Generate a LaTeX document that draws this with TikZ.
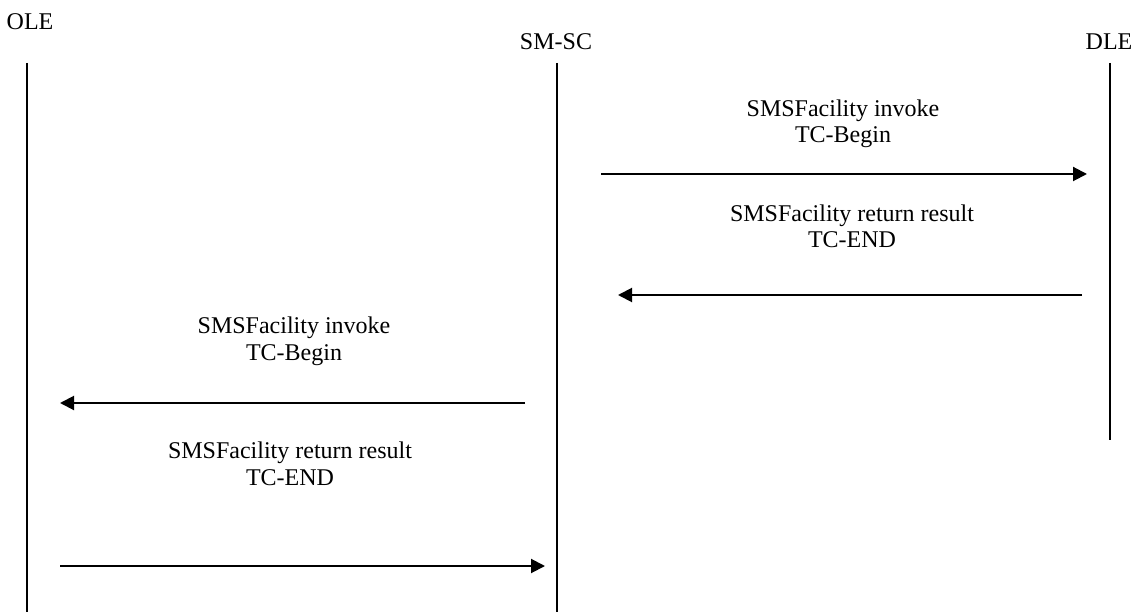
\documentclass[tikz,border=0pt]{standalone}
\usepackage{fontspec}
\setmainfont{Liberation Serif}
\usetikzlibrary{arrows.meta}
\begin{document}
\begin{tikzpicture}[x=1pt,y=-1pt,
  every node/.style={font=\fontsize{24}{26.5}\selectfont, inner sep=0pt, outer sep=0pt},
  head/.style={anchor=base},
  msglabel/.style={align=center, anchor=base},
  lifeline/.style={line width=2pt},
  msg/.style={line width=2pt, -{Triangle[length=14pt,width=14pt]}}]
\useasboundingbox (0,0) rectangle (1140,612);
% heads
\node[head] (ole) at (30,30) {OLE};
\node[head] (smsc) at (556,50) {SM-SC};
\node[head] (dle) at (1109,50) {DLE};
% lifelines
\coordinate (oleT) at (27,63);
\coordinate (oleB) at (27,612);
\coordinate (smscT) at (557,63);
\coordinate (smscB) at (557,612);
\coordinate (dleT) at (1110,63);
\coordinate (dleB) at (1110,440);
\draw[lifeline] (oleT) -- (oleB);
\draw[lifeline] (smscT) -- (smscB);
\draw[lifeline] (dleT) -- (dleB);
% message endpoints
\coordinate (m1s) at (601,174);
\coordinate (m1e) at (1087,174);
\coordinate (m2s) at (1082,295);
\coordinate (m2e) at (618,295);
\coordinate (m3s) at (525,403);
\coordinate (m3e) at (60,403);
\coordinate (m4s) at (60,566);
\coordinate (m4e) at (545,566);
\draw[msg] (m1s) -- (m1e);
\draw[msg] (m2s) -- (m2e);
\draw[msg] (m3s) -- (m3e);
\draw[msg] (m4s) -- (m4e);
% labels (anchor = baseline of last line)
\node[msglabel] (l1) at (843,143) {SMSFacility invoke\\TC-Begin};
\node[msglabel] (l2) at (852,248) {SMSFacility return result\\TC-END};
\node[msglabel] (l3) at (294,360) {SMSFacility invoke\\TC-Begin};
\node[msglabel] (l4) at (290,485) {SMSFacility return result\\TC-END};
\end{tikzpicture}
\end{document}
